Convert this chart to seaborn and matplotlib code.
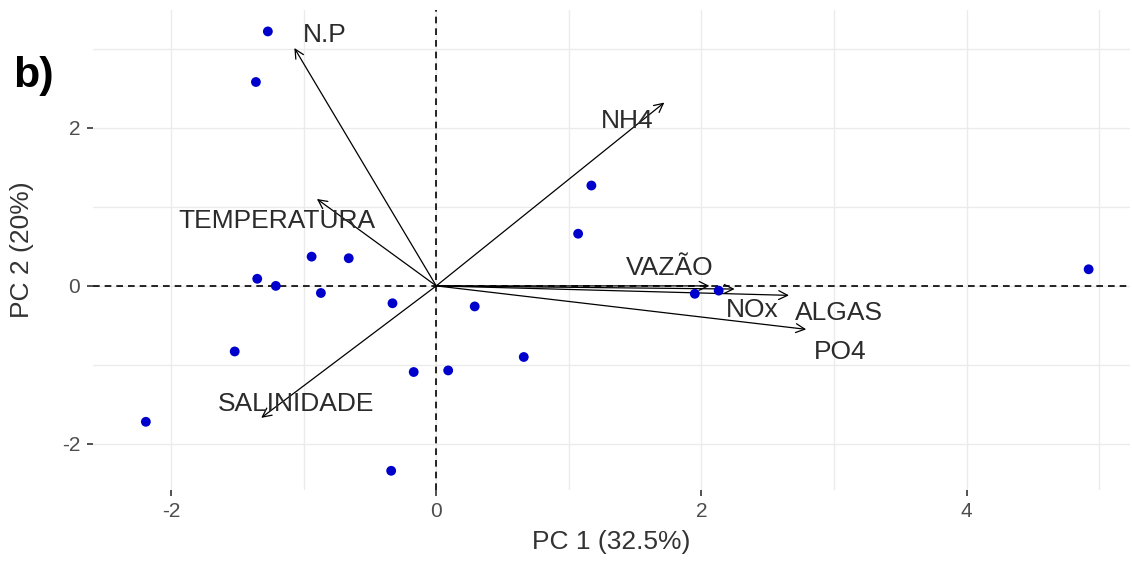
import numpy as np
import pandas as pd
import matplotlib
matplotlib.use("Agg")
import matplotlib.pyplot as plt
import seaborn as sns

# PCA scores (observations)
pc1_scores = [-1.27, -1.36, 1.17, 1.07, -0.94, -0.66, -1.35, -1.21, -0.87, -0.33,
              0.29, -1.52, 0.66, -0.17, 0.09, -2.19, -0.34, 1.95, 2.13, 4.92]
pc2_scores = [3.22, 2.58, 1.27, 0.66, 0.37, 0.35, 0.09, 0.00, -0.09, -0.22,
              -0.26, -0.83, -0.90, -1.09, -1.07, -1.72, -2.34, -0.10, -0.06, 0.21]

# Variable loadings (arrows)
variables = ["N.P", "TEMPERATURA", "NH4", "VAZÃO", "NOx", "ALGAS", "PO4", "SALINIDADE"]
load_pc1 = [-1.07, -0.90, 1.72, 2.06, 2.25, 2.66, 2.79, -1.32]
load_pc2 = [3.01, 1.10, 2.32, 0.00, -0.04, -0.12, -0.55, -1.67]

x_ticks = [-2, 0, 2, 4]
y_ticks = [-2, 0, 2]
x_label = "PC 1 (32.5%)"
y_label = "PC 2 (20%)"
panel_tag = "b)"

sns.set_theme(style="white")
plt.rcParams['font.family'] = ['Liberation Sans', 'DejaVu Sans']

fig = plt.figure(figsize=(11.32, 5.61), dpi=100)
ax = fig.add_axes([0.082, 0.127, 0.916, 0.855])

df = pd.DataFrame({"PC1": pc1_scores, "PC2": pc2_scores})

ax.set_xlim(-2.59, 5.23)
ax.set_ylim(-2.58, 3.49)

# grid (major + minor)
grid_col = "#EBEBEB"
for v in np.arange(-2, 6, 1):
    ax.axvline(v, color=grid_col, lw=1.0, zorder=0)
for v in np.arange(-2, 4, 1):
    ax.axhline(v, color=grid_col, lw=1.0, zorder=0)

ax.axvline(0, color="black", lw=1.2, ls=(0, (4, 3)), zorder=1)
ax.axhline(0, color="black", lw=1.2, ls=(0, (4, 3)), zorder=1)

# label offsets relative to arrow tips (layout only)
offsets = {
    "N.P": (0.23, 0.17),
    "TEMPERATURA": (-0.30, -0.28),
    "NH4": (-0.28, -0.23),
    "VAZÃO": (-0.30, 0.23),
    "NOx": (0.13, -0.26),
    "ALGAS": (0.38, -0.22),
    "PO4": (0.26, -0.29),
    "SALINIDADE": (0.26, 0.18),
}
for name, lx, ly in zip(variables, load_pc1, load_pc2):
    ax.annotate("", xy=(lx, ly), xytext=(0, 0),
                arrowprops=dict(arrowstyle="->", color="black", lw=0.9,
                                mutation_scale=16, shrinkA=0, shrinkB=0),
                zorder=3)
    dx, dy = offsets[name]
    ax.text(lx + dx, ly + dy, name, ha="center", va="center",
            fontsize=19, color="#2b2b2b", zorder=4)

sns.scatterplot(data=df, x="PC1", y="PC2", ax=ax, color="#0000CC",
                s=50, edgecolor="none", zorder=5, legend=False)

ax.set_xticks(x_ticks)
ax.set_yticks(y_ticks)
ax.set_xticklabels([str(t) for t in x_ticks])
ax.set_yticklabels([str(t) for t in y_ticks])
ax.tick_params(axis="both", which="major", length=4, width=1.2, color="#333333",
               labelsize=15, labelcolor="#4D4D4D", pad=5, bottom=True, left=True)
for s in ax.spines.values():
    s.set_visible(False)

ax.set_xlabel(x_label, fontsize=19, color="#333333", labelpad=6)
ax.set_ylabel(y_label, fontsize=19, color="#333333", labelpad=20)

fig.text(0.012, 0.865, panel_tag, fontsize=31, fontweight="bold", color="black",
         ha="left", va="center")

fig.savefig("out.png", dpi=100)
